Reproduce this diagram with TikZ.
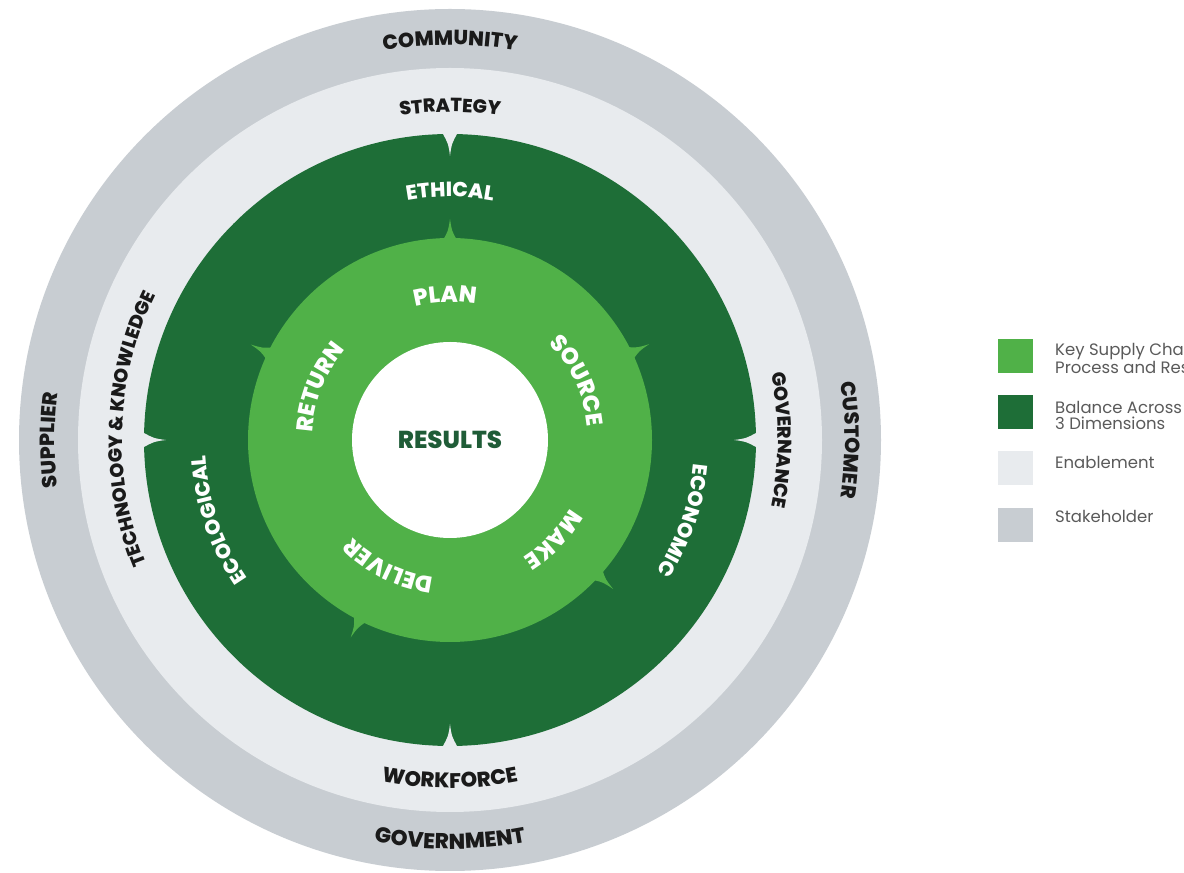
\documentclass[tikz,border=0pt]{standalone}
\usepackage{fontspec}
\setmainfont{Poppins}
\newfontfamily\popx{Poppins ExtraBold}
\usetikzlibrary{decorations.text}
\definecolor{stake}{HTML}{C8CDD2}
\definecolor{enab}{HTML}{E8EBEE}
\definecolor{dkg}{HTML}{1E6E37}
\definecolor{ltg}{HTML}{50B148}
\definecolor{txt}{HTML}{1A1A1A}
\definecolor{resg}{HTML}{1F5C37}
\definecolor{legtxt}{HTML}{5A5A5A}
\newcommand\lstk{\popx\fontsize{20.5}{20.5}\selectfont\color{txt}}
\newcommand\lstkb{\popx\fontsize{21.5}{21.5}\selectfont\color{txt}}
\newcommand\lblk{\popx\fontsize{19}{19}\selectfont\color{txt}}
\newcommand\lblkb{\popx\fontsize{21}{21}\selectfont\color{txt}}
\newcommand\ldim{\popx\fontsize{20.5}{20.5}\selectfont\color{white}}
\newcommand\lproc{\popx\fontsize{23}{23}\selectfont\color{white}}
\tikzset{
  arctext/.style={decorate,decoration={text along path,text align=center,text={#1}}},
  legbox/.style={minimum width=35pt,minimum height=34pt,inner sep=0pt,draw=none},
  legtext/.style={anchor=north west,inner sep=0pt,align=left,font=\fontsize{16.5}{16}\selectfont,text=legtxt},
  spike/.style={fill=ltg},
  notch/.style={fill=enab}
}
\begin{document}
\begin{tikzpicture}[x=1pt,y=1pt]
\useasboundingbox (0,0) rectangle (1184,873);
\fill[white] (0,0) rectangle (1184,873);
\clip (0,0) rectangle (1184,873);
\begin{scope}[shift={(450,433)}]
  \fill[stake] (0,0) circle[radius=431];
  \fill[enab] (0,0) circle[radius=372];
  \fill[dkg] (0,0) circle[radius=306];
  \foreach \a in {0,90,180,270}
    \fill[notch] ({\a-1.4}:307) .. controls ({\a-0.3}:296) .. (\a:284) .. controls ({\a+0.3}:296) .. ({\a+1.4}:307) -- cycle;
  \fill[ltg] (0,0) circle[radius=202];
  \foreach \a in {90,25.7,-42.4,243.3,154.4}
    \fill[spike] ({\a-2}:200) .. controls ({\a-0.5}:209) .. (\a:221) .. controls ({\a+0.5}:209) .. ({\a+2}:200) -- cycle;
  \fill[white] (0,0) circle[radius=98];
  \node (res) at (0,0) {\popx\fontsize{24.5}{24.5}\selectfont\color{resg}RESULTS};
  % stakeholder ring
  \path[arctext={|\lstk|COMMUNITY}] (150:395) arc[start angle=150,end angle=30,radius=395];
  \path[arctext={|\lstk|SUPPLIER}] (240:395) arc[start angle=240,end angle=120,radius=395];
  \path[arctext={|\lstk|CUSTOMER}] (60:395) arc[start angle=60,end angle=-60,radius=395];
  \path[arctext={|\lstkb|GOVERNMENT}] (210:409) arc[start angle=210,end angle=330,radius=409];
  % enablement ring
  \path[arctext={|\lblk|STRATEGY}] (150:328) arc[start angle=150,end angle=30,radius=328];
  \path[arctext={|\lblk|TECHNOLOGY {\&} KNOWLEDGE}] (268:328) arc[start angle=268,end angle=88,radius=328];
  \path[arctext={|\lblk|GOVERNANCE}] (60:328) arc[start angle=60,end angle=-60,radius=328];
  \path[arctext={|\lblkb|WORKFORCE}] (210:348) arc[start angle=210,end angle=330,radius=348];
  % dimensions ring
  \path[arctext={|\ldim|ETHICAL}] (150:243) arc[start angle=150,end angle=30,radius=243];
  \path[arctext={|\ldim|ECOLOGICAL}] (259:245) arc[start angle=259,end angle=139,radius=245];
  \path[arctext={|\ldim|ECONOMIC}] (41:245) arc[start angle=41,end angle=-79,radius=245];
  % process ring
  \path[arctext={|\lproc|PLAN}] (152:138) arc[start angle=152,end angle=32,radius=138];
  \path[arctext={|\lproc|SOURCE}] (85:138) arc[start angle=85,end angle=-35,radius=138];
  \path[arctext={|\lproc|MAKE}] (16:138) arc[start angle=16,end angle=-104,radius=138];
  \path[arctext={|\lproc|DELIVER}] (304:138) arc[start angle=304,end angle=184,radius=138];
  \path[arctext={|\lproc|RETURN}] (218:138) arc[start angle=218,end angle=98,radius=138];
\end{scope}
% legend
\node[legbox,fill=ltg] (k1) at (1015.5,516.5) {};
\node[legtext] (t1) at (1055,530) {Key Supply Chain\\Process and Results};
\node[legbox,fill=dkg] (k2) at (1015.5,460.5) {};
\node[legtext] (t2) at (1055,472) {Balance Across\\3 Dimensions};
\node[legbox,fill=enab] (k3) at (1015.5,404.5) {};
\node[legtext] (t3) at (1055,417) {Enablement};
\node[legbox,fill=stake] (k4) at (1015.5,348) {};
\node[legtext] (t4) at (1055,363) {Stakeholder};
\end{tikzpicture}
\end{document}
